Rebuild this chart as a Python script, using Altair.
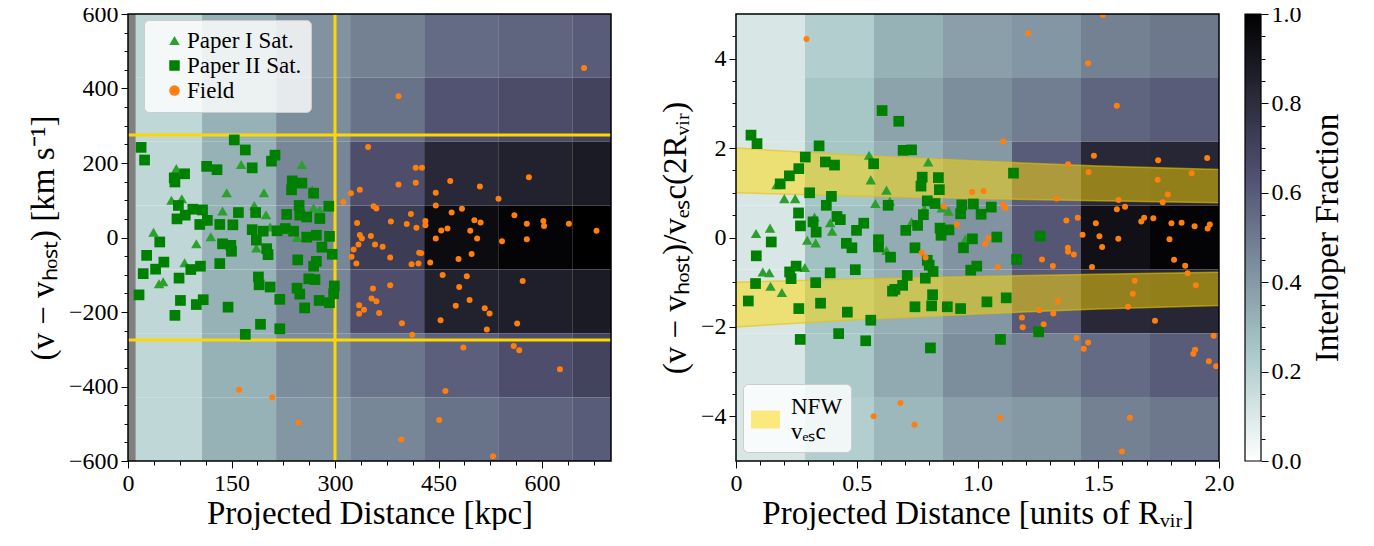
import altair as alt
import pandas as pd

FONT = "Liberation Serif"
GOLD = "#ffd700"
TRI = "#2ca02c"
SQ = "#008000"
ORG = "#ff7f0e"

# ---------------- left panel (kpc, km/s) ----------------
sat1_kpc = [70, 164, 252, 143, 197, 267, 63, 78, 183, 137, 200, 269, 278, 37, 120, 104, 206, 99, 186, 245, 82, 45, 51]
sat1_vel = [185, 196, 196, 120, 120, 128, 100, 104, 86, 71, 61, 79, 73, 14, 2, 37, 28, -17, -28, 0, -68, -124, -119]

sat2_kpc = [19, 24, 154, 170, 180, 114, 129, 208, 213, 67, 82, 68, 238, 252, 237, 269, 291, 73, 94, 108, 83, 71,
            115, 104, 133, 152, 160, 185, 230, 248, 249, 259, 278, 180, 196, 216, 228, 240, 259, 273, 292, 46,
            27, 52, 40, 22, 16, 74, 91, 105, 76, 68, 99, 109, 133, 137, 149, 150, 145, 170, 189, 190, 206, 203,
            201, 186, 220, 192, 220, 246, 273, 269, 262, 271, 245, 249, 256, 277, 292, 299, 298, 296, 281]
sat2_vel = [242, 208, 262, 235, 187, 191, 182, 205, 221, 160, 171, 149, 152, 146, 128, 119, 84, 86, 76, 74, 60, 50,
            46, 35, 35, 34, 67, 67, 62, 86, 60, 55, 51, 21, 17, 18, 24, 17, 1, 6, 3, -12,
            -48, -66, -85, -97, -154, -109, -86, -77, -169, -209, -180, -167, -70, -17, -21, -37, -187, -260, -106, -127, -133, -46,
            -30, -7, -166, -233, -245, -60, -64, -77, -111, -113, -136, -152, -189, -169, -175, -130, -151, -45, -26]

field_kpc = [392, 348, 417, 392, 417, 336, 323, 312, 356, 360, 332, 381, 410, 404, 418, 336, 352,
             339, 334, 327, 324, 331, 358, 369, 380, 411, 421, 422, 355, 353, 360, 380, 335, 342, 335, 364, 397, 412,
             161, 209, 247, 396,
             661, 426, 467, 510, 581, 446, 537, 446, 469, 484, 431, 431, 454, 463, 496, 502, 511, 560, 578, 602, 603,
             639, 679, 446, 506, 542, 578,
             425, 438, 479, 498, 456, 491, 480, 572, 495, 475, 517, 524, 453, 520, 564, 486, 559, 567, 626, 460, 451, 529]
field_vel = [379, 243, 187, 142, 147, 128, 119, 95, 84, 78, 39, 43, 63, 36, 26, 7, 4,
             -3, -19, -32, -52, -70, -19, -25, -54, -72, -70, -41, -137, -164, -171, -128, -182, -194, -205, -203, -230, -261,
             -409, -429, -497, -542,
             455, 187, 152, 137, 162, 120, 104, 86, 67, 77, 44, 33, 19, 24, 18, 46, 40, 60, 37, 44, 31,
             37, 18, -3, -3, -10, -5,
             -42, -67, -58, -44, -101, -104, -133, -117, -168, -183, -190, -204, -222, -247, -231, -295, -291, -303, -354, -412, -490, -587]

# ---------------- right panel (R/Rvir, v/vesc) ----------------
sat1_r = [0.551, 0.796, 0.168, 0.558, 0.623, 0.637, 0.20, 0.245, 0.577, 0.78, 0.88, 0.852, 0.256, 0.325, 0.141, 0.083,
          0.39, 0.398, 0.295, 0.33, 0.727, 0.95, 0.111, 0.138, 0.285, 0.143, 0.19, 0.623]
sat1_y = [1.84, 1.69, 1.18, 1.29, 1.06, 0.81, 0.87, 0.87, 0.76, 0.64, 0.59, 0.66, 0.53, 0.46, 0.21, 0.09,
          0.33, 0.14, -0.06, -0.12, 0.35, -0.03, -0.77, -0.79, -0.67, -1.09, -1.23, -0.29]

sat2_r = [0.062, 0.087, 0.605, 0.674, 0.692, 0.727, 0.344, 0.287, 0.37, 0.408, 0.26, 0.221, 0.183, 0.57, 0.771, 0.766,
          0.838, 0.842, 0.305, 0.395, 0.374, 0.63, 0.792, 0.824, 0.935, 0.983, 1.015, 1.057, 0.93, 0.776, 0.752, 0.703,
          0.845, 0.882, 0.849, 0.979, 0.259, 0.267, 0.319, 0.332, 0.418, 0.432, 0.499, 0.529, 0.457, 0.59, 0.146,
          0.084, 0.249, 0.222, 0.228, 0.081, 0.051, 0.33, 0.39, 0.494, 0.48, 0.59, 0.64, 0.26, 0.35, 0.461, 0.558,
          0.266, 0.425, 0.537, 0.741, 0.792, 0.80, 0.816, 0.784, 0.709, 0.69, 0.658, 0.648, 0.814, 0.81, 0.741, 0.875,
          0.93, 1.039, 0.805, 0.942, 0.972, 0.997, 1.149, 1.08, 1.259, 1.162, 1.119, 1.253, 1.095]
sat2_y = [2.29, 2.10, 2.84, 2.60, 1.95, 1.96, 2.05, 1.80, 1.69, 1.62, 1.54, 1.38, 1.20, 1.65, 1.35, 1.15,
          1.34, 1.07, 1.00, 0.92, 0.72, 0.72, 0.82, 0.76, 0.73, 0.75, 0.52, 0.68, 0.53, 0.51, 0.27, 0.16,
          0.21, 0.17, 0.05, -0.03, 0.55, 0.26, 0.35, 0.12, 0.47, 0.40, 0.16, 0.32, -0.13, -0.05, -0.10,
          -0.41, -0.64, -0.77, -0.92, -1.03, -1.42, -1.01, -0.79, -0.72, -0.23, -0.21, -0.44, -1.59, -1.47, -1.67, -1.85,
          -2.28, -2.15, -2.31, -0.23, -0.51, -0.62, -0.76, -0.91, -0.85, -1.07, -1.16, -1.20, -1.28, -1.53, -1.55, -1.55,
          -1.59, -1.44, -2.47, -0.23, -0.73, -0.64, 1.44, 0.01, 0.03, -0.49, -1.35, -2.11, -2.28]

field_r = [0.292, 0.978, 1.025, 0.86, 0.914, 1.045, 0.769, 0.785, 1.032, 0.681, 0.57, 0.739,
           1.519, 1.21, 1.458, 1.577, 1.106, 1.482, 1.748, 1.951, 1.375, 1.46, 1.887, 1.746, 1.788, 1.767, 1.328,
           1.584, 1.611, 1.577, 1.106, 1.115, 1.368, 1.415, 1.49, 1.69, 1.678, 1.728, 1.803, 1.845, 1.899, 1.962,
           1.953, 1.435, 1.505, 1.583, 1.795,
           1.516, 1.374, 1.375, 1.399, 1.267, 1.312, 1.474, 1.084, 1.814, 1.86, 1.87, 1.904, 1.651, 1.643, 1.623,
           1.735, 1.334, 1.256, 1.314, 1.184, 1.187, 1.274, 1.41, 1.458, 1.44, 1.978, 1.901, 1.894, 1.958, 1.988,
           1.094, 1.631, 1.598]
field_y = [4.44, 1.02, 1.04, 0.70, 0.29, -0.01, -0.34, -0.45, -0.14, -3.70, -4.00, -4.19,
           4.98, 4.57, 3.90, 2.95, 2.15, 1.83, 1.73, 1.78, 1.64, 1.46, 1.44, 1.29, 0.96, 0.79, 0.87,
           0.84, 0.69, 0.63, 0.73, 0.66, 0.38, 0.44, 0.32, 0.44, 0.36, 0.43, 0.32, 0.33, 0.25, 0.29,
           0.20, 0.06, 0.03, -0.03, -0.04,
           -0.21, -0.23, -0.32, -0.38, -0.49, -0.64, -0.66, -0.66, -0.50, -0.63, -0.80, -1.07, -0.97, -1.26, -1.55,
           -1.86, -1.42, -1.63, -1.70, -1.79, -2.01, -1.94, -2.25, -2.35, -2.49, -2.20, -2.51, -2.60, -2.77, -2.88,
           -4.03, -4.03, -4.79]

# ---------------- interloper fraction grids (one list per distance bin, top row first) ----------------
left_xedges = [0, 107.3, 214.6, 321.9, 429.2, 536.5, 643.8, 751.1]
left_yedges = [600, 428.57, 257.14, 85.71, -85.71, -257.14, -428.57, -600]
left_frac = [
    [0.18, 0.18, 0.18, 0.18, 0.18, 0.18, 0.18],
    [0.32, 0.32, 0.32, 0.32, 0.32, 0.32, 0.32],
    [0.42, 0.44, 0.46, 0.46, 0.46, 0.44, 0.41],
    [0.48, 0.53, 0.65, 0.73, 0.65, 0.52, 0.46],
    [0.55, 0.63, 0.82, 0.95, 0.85, 0.59, 0.53],
    [0.57, 0.66, 0.85, 0.98, 0.86, 0.65, 0.57],
    [0.60, 0.70, 0.88, 1.00, 0.88, 0.70, 0.60],
]
right_xedges = [0, 0.2857, 0.5714, 0.8571, 1.1429, 1.4286, 1.7143, 2.0]
right_yedges = [5, 3.571, 2.143, 0.714, -0.714, -2.143, -3.571, -5]
right_frac = [
    [0.11, 0.11, 0.11, 0.11, 0.11, 0.11, 0.11],
    [0.22, 0.25, 0.25, 0.27, 0.25, 0.24, 0.22],
    [0.32, 0.37, 0.33, 0.34, 0.33, 0.35, 0.30],
    [0.38, 0.44, 0.40, 0.42, 0.41, 0.44, 0.38],
    [0.41, 0.49, 0.60, 0.62, 0.61, 0.48, 0.40],
    [0.48, 0.57, 0.82, 0.93, 0.82, 0.55, 0.48],
    [0.51, 0.60, 0.83, 0.98, 0.83, 0.60, 0.51],
]

# NFW escape-velocity band (upper edge / lower edge of the positive band)
nfw_r = [0, 0.5, 1.0, 1.5, 2.0]
nfw_hi = [2.00, 1.84, 1.71, 1.60, 1.52]
nfw_lo = [1.00, 0.93, 0.87, 0.82, 0.78]

vline_kpc = [300]
hline_vel = [275, -275]
mask_kpc = [0, 11]

# colormap (bone_r)
bone_stops = [0, 0.125, 0.254, 0.375, 0.5, 0.635, 0.75, 0.875, 1.0]
bone_colors = ["#ffffff", "#d3e3e3", "#a6c6c6", "#8ba1ab", "#6f7b8f", "#515171", "#38384e", "#1c1c27", "#000000"]

# ticks
left_x_major = [0, 150, 300, 450, 600]
left_x_minor = [37.5, 75, 112.5, 187.5, 225, 262.5, 337.5, 375, 412.5, 487.5, 525, 562.5, 637.5, 675]
left_y_major = [-600, -400, -200, 0, 200, 400, 600]
left_y_minor = [-550, -500, -450, -350, -300, -250, -150, -100, -50, 50, 100, 150, 250, 300, 350, 450, 500, 550]
right_x_major = [0, 0.5, 1.0, 1.5, 2.0]
right_x_minor = [0.1, 0.2, 0.3, 0.4, 0.6, 0.7, 0.8, 0.9, 1.1, 1.2, 1.3, 1.4, 1.6, 1.7, 1.8, 1.9]
right_y_major = [-4, -2, 0, 2, 4]
right_y_minor = [-4.5, -3.5, -3, -2.5, -1.5, -1, -0.5, 0.5, 1, 1.5, 2.5, 3, 3.5, 4.5]
cbar_major = [0, 0.2, 0.4, 0.6, 0.8, 1.0]
cbar_minor = [0.05, 0.1, 0.15, 0.25, 0.3, 0.35, 0.45, 0.5, 0.55, 0.65, 0.7, 0.75, 0.85, 0.9, 0.95]

W, H = 483, 447
CB_W = 16
TICK = 7
MINOR_TICK = 4


def heat_table(xe, ye, frac):
    recs = []
    for i in range(len(xe) - 1):
        for j in range(len(ye) - 1):
            recs.append({"x0": xe[i], "x1": xe[i + 1], "y0": ye[j + 1], "y1": ye[j], "f": frac[i][j]})
    return pd.DataFrame(recs)


fill_scale = alt.Scale(domain=bone_stops, range=bone_colors, interpolate="rgb", clamp=True)


def major(values, title, orient, label_expr=""):
    kw = dict(values=values, title=title, orient=orient, tickSize=TICK, ticks=True, labels=True,
              labelPadding=3, titlePadding=(2 if orient == "bottom" else 8))
    if label_expr:
        kw["labelExpr"] = label_expr
    return alt.Axis(**kw)


def minor(values, orient):
    return alt.Axis(values=values, orient=orient, tickSize=MINOR_TICK, labels=False, title="", ticks=True,
                    titlePadding=0)


def minor_layer(xdom, ydom, xmin, ymin):
    df = pd.DataFrame({"mx": xdom, "my": ydom})
    return alt.Chart(df).mark_point(opacity=0).encode(
        x=alt.X("mx:Q", scale=alt.Scale(domain=xdom, nice=False, zero=False), axis=minor(xmin, "bottom")),
        y=alt.Y("my:Q", scale=alt.Scale(domain=ydom, nice=False, zero=False), axis=minor(ymin, "left")),
    )


def frame():
    return alt.Chart(pd.DataFrame({"k": [0]})).mark_rect(filled=False, stroke="black", strokeWidth=1.5).encode(
        x=alt.value(0), x2=alt.value(W), y=alt.value(0), y2=alt.value(H)
    )


# ---------------- left chart ----------------
xL = alt.Scale(domain=[0, 700], nice=False, zero=False)
yL = alt.Scale(domain=[-600, 600], nice=False, zero=False)

heatL = alt.Chart(heat_table(left_xedges, left_yedges, left_frac)).mark_rect(clip=True).encode(
    x=alt.X("x0:Q", scale=xL, axis=major(left_x_major, "Projected Distance [kpc]", "bottom")),
    x2="x1",
    y=alt.Y("y0:Q", scale=yL, axis=major(left_y_major, "(v − vₕₒₛₜ) [km s⁻¹]", "left")),
    y2="y1",
    fill=alt.Fill("f:Q", scale=fill_scale, legend=None),
)

maskL = alt.Chart(pd.DataFrame({"a": [mask_kpc[0]], "b": [mask_kpc[1]]})).mark_rect(color="#808080").encode(
    x="a:Q", x2="b"
)
vL = alt.Chart(pd.DataFrame({"xv": vline_kpc})).mark_rule(color=GOLD, strokeWidth=3).encode(x="xv:Q")
hL = alt.Chart(pd.DataFrame({"yv": hline_vel})).mark_rule(color=GOLD, strokeWidth=3).encode(y="yv:Q")

kinds = ["Paper I Sat.", "Paper II Sat.", "Field"]
legL = alt.Legend(
    orient="none", legendX=16, legendY=6, title="", direction="vertical",
    fillColor="rgba(255,255,255,0.82)", strokeColor="#cccccc", cornerRadius=5, padding=9,
    symbolOffset=10, labelOffset=1, rowPadding=1, labelFontSize=23, labelFont=FONT,
    symbolStrokeWidth=0, symbolOpacity=1, labelColor="black", symbolSize=110,
)
color_enc = alt.Color("kind:N", scale=alt.Scale(domain=kinds, range=[TRI, SQ, ORG]), legend=legL)
shape_enc = alt.Shape("kind:N", scale=alt.Scale(domain=kinds, range=["triangle-up", "square", "circle"]), legend=legL)

triL = alt.Chart(pd.DataFrame({"d": sat1_kpc, "v": sat1_vel, "kind": kinds[0]})).mark_point(
    filled=True, opacity=1, size=110, clip=True).encode(x="d:Q", y="v:Q", color=color_enc, shape=shape_enc)
sqL = alt.Chart(pd.DataFrame({"d": sat2_kpc, "v": sat2_vel, "kind": kinds[1]})).mark_point(
    filled=True, opacity=1, size=115, clip=True).encode(x="d:Q", y="v:Q", color=color_enc, shape=shape_enc)
fL = alt.Chart(pd.DataFrame({"d": field_kpc, "v": field_vel, "kind": kinds[2]})).mark_point(
    filled=True, opacity=1, size=36, clip=True).encode(x="d:Q", y="v:Q", color=color_enc, shape=shape_enc)

left = alt.layer(
    alt.layer(heatL, maskL, vL, hL, triL, sqL, fL, frame()),
    minor_layer([0, 700], [-600, 600], left_x_minor, left_y_minor),
).resolve_scale(x="independent", y="independent").properties(width=W, height=H)

# ---------------- right chart ----------------
xR = alt.Scale(domain=[0, 2], nice=False, zero=False)
yR = alt.Scale(domain=[-5, 5], nice=False, zero=False)

heatR = alt.Chart(heat_table(right_xedges, right_yedges, right_frac)).mark_rect(clip=True).encode(
    x=alt.X("x0:Q", scale=xR, axis=major(right_x_major, "Projected Distance [units of Rᵥᵢᵣ]", "bottom",
                                          "datum.value == 0 ? '0' : format(datum.value, '.1f')")),
    x2="x1",
    y=alt.Y("y0:Q", scale=yR, axis=major(right_y_major, "(v − vₕₒₛₜ)/vₑₛc(2Rᵥᵢᵣ)", "left")),
    y2="y1",
    fill=alt.Fill("f:Q", scale=fill_scale, legend=None),
)

band_df = pd.concat([
    pd.DataFrame({"r": nfw_r, "hi": nfw_hi, "lo": nfw_lo, "side": "up", "band": "NFW"}),
    pd.DataFrame({"r": nfw_r, "hi": [-v for v in nfw_lo], "lo": [-v for v in nfw_hi], "side": "down", "band": "NFW"}),
], ignore_index=True)
edge_df = pd.concat([
    pd.DataFrame({"r": nfw_r, "e": nfw_hi, "edge": "a"}),
    pd.DataFrame({"r": nfw_r, "e": nfw_lo, "edge": "b"}),
    pd.DataFrame({"r": nfw_r, "e": [-v for v in nfw_hi], "edge": "c"}),
    pd.DataFrame({"r": nfw_r, "e": [-v for v in nfw_lo], "edge": "d"}),
], ignore_index=True)

legR = alt.Legend(
    orient="none", legendX=7, legendY=370, title="",
    fillColor="rgba(255,255,255,0.82)", strokeColor="#cccccc", cornerRadius=5, padding=8,
    symbolType="M-1,0.28L1,0.28L1,1.52L-1,1.52Z", symbolSize=841, symbolOpacity=0.5, symbolStrokeWidth=0,
    labelExpr="['NFW', 'vₑₛc']", labelFontSize=23, labelFont=FONT, labelOffset=11, labelColor="black",
)
bandR = alt.Chart(band_df).mark_area(opacity=0.5, clip=True).encode(
    x="r:Q", y="hi:Q", y2="lo",
    color=alt.Color("band:N", scale=alt.Scale(domain=["NFW"], range=[GOLD]), legend=legR),
    detail="side:N",
)
edgeR = alt.Chart(edge_df).mark_line(color="#e6c200", opacity=0.6, strokeWidth=1.5, clip=True).encode(
    x="r:Q", y="e:Q", detail="edge:N"
)

triR = alt.Chart(pd.DataFrame({"r": sat1_r, "y": sat1_y})).mark_point(
    shape="triangle-up", filled=True, size=110, color=TRI, opacity=1, clip=True).encode(x="r:Q", y="y:Q")
sqR = alt.Chart(pd.DataFrame({"r": sat2_r, "y": sat2_y})).mark_point(
    shape="square", filled=True, size=115, color=SQ, opacity=1, clip=True).encode(x="r:Q", y="y:Q")
fR = alt.Chart(pd.DataFrame({"r": field_r, "y": field_y})).mark_point(
    shape="circle", filled=True, size=36, color=ORG, opacity=1, clip=True).encode(x="r:Q", y="y:Q")

right = alt.layer(
    alt.layer(heatR, bandR, edgeR, triR, sqR, fR, frame()),
    minor_layer([0, 2], [-5, 5], right_x_minor, right_y_minor),
).resolve_scale(x="independent", y="independent").properties(width=W, height=H)

# ---------------- colorbar ----------------
grad = alt.LinearGradient(
    gradient="linear",
    stops=[alt.GradientStop(color=c, offset=o) for o, c in zip(bone_stops, bone_colors)],
    x1=0, x2=0, y1=1, y2=0,
)
cb_df = pd.DataFrame({"a": [0], "b": [1], "lo": [0.0], "hi": [1.0]})
cb_main = alt.Chart(cb_df).mark_rect(fill=grad, stroke="black", strokeWidth=1.2).encode(
    x=alt.X("a:Q", scale=alt.Scale(domain=[0, 1], nice=False), axis=None),
    x2="b",
    y=alt.Y("lo:Q", scale=alt.Scale(domain=[0, 1], nice=False, zero=False),
            axis=alt.Axis(orient="right", values=cbar_major, format=".1f", title="Interloper Fraction",
                          titleAngle=270, titleBaseline="top", tickSize=TICK, labelPadding=3, titlePadding=10)),
    y2="hi",
)
cb_minor = alt.Chart(pd.DataFrame({"my": [0.0, 1.0]})).mark_point(opacity=0).encode(
    y=alt.Y("my:Q", scale=alt.Scale(domain=[0, 1], nice=False, zero=False), axis=minor(cbar_minor, "right"))
)
cbar = alt.layer(cb_main, cb_minor).resolve_scale(y="independent").properties(width=CB_W, height=H)

indep = dict(color="independent", fill="independent", shape="independent")
chart = alt.hconcat(
    left,
    alt.hconcat(right, cbar, spacing=10).resolve_scale(**indep),
    spacing=45,
).resolve_scale(**indep).properties(
    padding={"left": 19, "top": -6, "right": 5, "bottom": 0}
).configure_view(
    stroke=None
).configure_axis(
    labelFont=FONT, titleFont=FONT, labelFontSize=24, titleFontSize=33, titleFontWeight="normal",
    labelColor="black", titleColor="black", tickColor="black", tickWidth=1, domain=False, grid=False,
    labelFlush=False, labelOverlap=False,
)

chart.save("out.html", embed_options={"renderer": "svg", "actions": False})
